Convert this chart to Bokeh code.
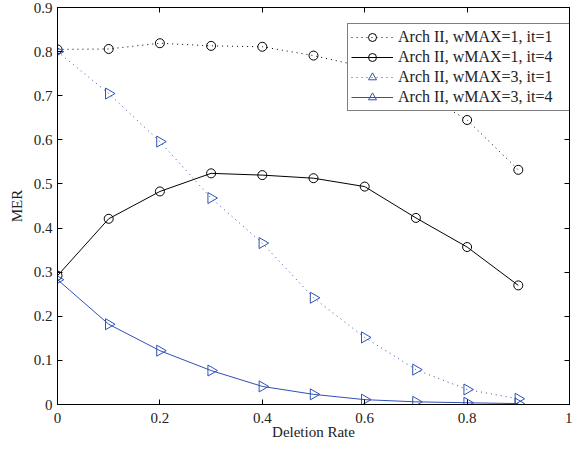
import numpy as np
from bokeh.plotting import figure
from bokeh.models import LinearAxis, Legend, LegendItem, FixedTicker, Range1d
from bokeh.embed import file_html
from bokeh.resources import INLINE

deletion_rate = [0.0, 0.1, 0.2, 0.3, 0.4, 0.5, 0.6, 0.7, 0.8, 0.9]
mer_w1_it1 = [0.805, 0.806, 0.819, 0.813, 0.811, 0.791, 0.765, 0.715, 0.645, 0.532]
mer_w1_it4 = [0.292, 0.421, 0.483, 0.524, 0.520, 0.513, 0.494, 0.423, 0.357, 0.270]
mer_w3_it1 = [0.800, 0.705, 0.596, 0.468, 0.366, 0.242, 0.152, 0.079, 0.034, 0.013]
mer_w3_it4 = [0.283, 0.182, 0.122, 0.077, 0.041, 0.023, 0.011, 0.006, 0.004, 0.002]
labels = ["Arch II, wMAX=1, it=1", "Arch II, wMAX=1, it=4",
          "Arch II, wMAX=3, it=1", "Arch II, wMAX=3, it=4"]
x_ticks = [0, 0.2, 0.4, 0.6, 0.8, 1]
y_ticks = [0, 0.1, 0.2, 0.3, 0.4, 0.5, 0.6, 0.7, 0.8, 0.9]

FONT = "Liberation Serif"
BLUE = "#3050b4"

p = figure(width=572, height=442, output_backend="svg", toolbar_location=None,
           x_range=Range1d(0, 1), y_range=Range1d(0, 0.9),
           min_border_left=57, min_border_right=3, min_border_top=7, min_border_bottom=37)
p.xgrid.visible = False
p.ygrid.visible = False
p.outline_line_color = "black"
p.outline_line_width = 1
p.background_fill_color = "white"
p.border_fill_color = "white"

def style_axis(ax, ticks, show_labels=True):
    ax.ticker = FixedTicker(ticks=ticks)
    ax.major_tick_in = 5
    ax.major_tick_out = 0
    ax.minor_tick_line_color = None
    ax.axis_line_color = "black"
    ax.major_tick_line_color = "black"
    ax.major_label_text_font = FONT
    ax.major_label_text_font_size = "15px"
    ax.major_label_text_color = "#222222"
    ax.axis_label_text_font = FONT
    ax.axis_label_text_font_size = "15px"
    ax.axis_label_text_font_style = "normal"
    ax.axis_label_text_color = "#222222"
    if not show_labels:
        ax.major_label_overrides = {t: "" for t in ticks}
        ax.major_label_standoff = 0

style_axis(p.xaxis[0], x_ticks)
style_axis(p.yaxis[0], y_ticks)
p.xaxis[0].axis_label = "Deletion Rate"
p.yaxis[0].axis_label = "MER"
p.xaxis[0].major_label_standoff = 8
p.xaxis[0].axis_label_standoff = -2
p.yaxis[0].major_label_standoff = 5
p.yaxis[0].axis_label_standoff = 6
p.xaxis[0].major_label_overrides = {0: "0", 1: "1"}
p.yaxis[0].major_label_overrides = {0: "0"}

top = LinearAxis()
style_axis(top, x_ticks, show_labels=False)
p.add_layout(top, "above")
right = LinearAxis()
style_axis(right, y_ticks, show_labels=False)
p.add_layout(right, "right")

l1 = p.line(deletion_rate, mer_w1_it1, line_color="black", line_width=1, line_dash="1 4")
m1 = p.scatter(deletion_rate, mer_w1_it1, marker="circle", size=9, fill_color=None,
               line_color="black", line_width=1)
l2 = p.line(deletion_rate, mer_w1_it4, line_color="black", line_width=1)
m2 = p.scatter(deletion_rate, mer_w1_it4, marker="circle", size=9, fill_color=None,
               line_color="black", line_width=1)
l3 = p.line(deletion_rate, mer_w3_it1, line_color=BLUE, line_width=1, line_dash="1 4")
m3 = p.scatter(deletion_rate, mer_w3_it1, marker="triangle", size=11, angle=-np.pi / 2,
               fill_color=None, line_color=BLUE, line_width=1)
l4 = p.line(deletion_rate, mer_w3_it4, line_color=BLUE, line_width=1)
m4 = p.scatter(deletion_rate, mer_w3_it4, marker="triangle", size=11, angle=-np.pi / 2,
               fill_color=None, line_color=BLUE, line_width=1)

legend = Legend(items=[LegendItem(label=labels[0], renderers=[l1, m1]),
                       LegendItem(label=labels[1], renderers=[l2, m2]),
                       LegendItem(label=labels[2], renderers=[l3, m3]),
                       LegendItem(label=labels[3], renderers=[l4, m4])],
                location=(290, 293))
legend.label_text_font = FONT
legend.label_text_font_size = "16px"
legend.label_text_color = "#222222"
legend.border_line_color = "black"
legend.border_line_width = 1
legend.background_fill_color = "white"
legend.background_fill_alpha = 1
legend.glyph_width = 42
legend.glyph_height = 20
legend.label_height = 20
legend.label_width = 172
legend.label_standoff = 5
legend.spacing = 0
legend.padding = 3
legend.margin = 0
p.add_layout(legend, "center")

open("out.html", "w").write(file_html(p, INLINE))
